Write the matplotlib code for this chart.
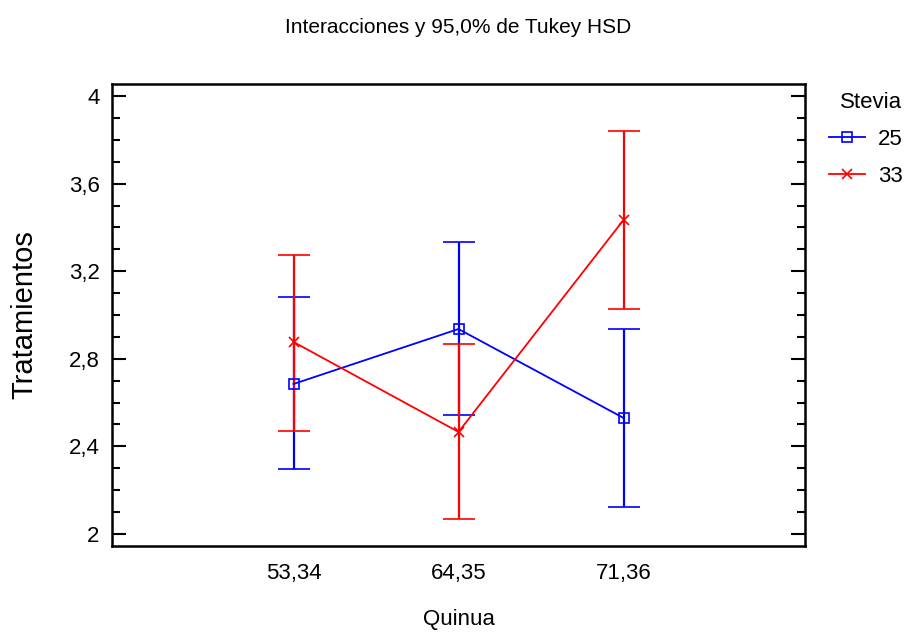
import matplotlib
matplotlib.use("Agg")
import matplotlib.pyplot as plt
from matplotlib.lines import Line2D
from matplotlib.ticker import MultipleLocator, FuncFormatter

plt.rcParams['font.family'] = ['Liberation Sans', 'DejaVu Sans']

quinua = ['53,34', '64,35', '71,36']
stevia = ['25', '33']

# medias y limites de Tukey HSD
mean_25 = [2.685, 2.936, 2.530]
low_25 = [2.297, 2.543, 2.123]
high_25 = [3.082, 3.333, 2.936]

mean_33 = [2.877, 2.466, 3.434]
low_33 = [2.470, 2.068, 3.027]
high_33 = [3.274, 2.868, 3.840]

fig = plt.figure(figsize=(9.15, 6.33), dpi=100)
ax = fig.add_axes([0.1224, 0.1374, 0.7574, 0.7299])

x = list(range(len(quinua)))
series = [
    (mean_25, low_25, high_25, '#0000ff', 's', stevia[0]),
    (mean_33, low_33, high_33, '#ff0000', 'x', stevia[1]),
]
handles = []
for m, lo, hi, col, mk, lab in series:
    err = [[a - b for a, b in zip(m, lo)], [b - a for a, b in zip(m, hi)]]
    ax.errorbar(x, m, yerr=err, color=col, ecolor=col, elinewidth=1.6,
                capsize=11.5, capthick=1.6, lw=1.3, marker=mk,
                markersize=6.5, markerfacecolor='none', markeredgecolor=col,
                markeredgewidth=1.2)
    handles.append(Line2D([], [], color=col, lw=1.3, marker=mk, markersize=6.5,
                          markerfacecolor='none', markeredgewidth=1.2, label=lab))

ax.set_xlim(-1.1, 3.1)
ax.set_ylim(1.945, 4.055)
ax.set_xticks(x)
ax.set_xticklabels(quinua)
ax.yaxis.set_major_locator(MultipleLocator(0.4))
ax.yaxis.set_minor_locator(MultipleLocator(0.1))
ax.yaxis.set_major_formatter(FuncFormatter(lambda v, p: ('%g' % round(v, 1)).replace('.', ',')))

ax.tick_params(axis='y', which='major', direction='in', length=10, width=1.5,
               left=True, right=True, labelsize=16, pad=9)
ax.tick_params(axis='y', which='minor', direction='in', length=5.5, width=1.5,
               left=True, right=True)
ax.tick_params(axis='x', length=0, labelsize=16, pad=12)
for s in ax.spines.values():
    s.set_linewidth(1.8)

ax.set_title('Interacciones y 95,0% de Tukey HSD', fontsize=15, pad=37)
ax.set_xlabel('Quinua', fontsize=16, labelpad=18)
ax.set_ylabel('Tratamientos', fontsize=21, labelpad=22)

leg = fig.legend(handles=handles, title='Stevia', loc='upper right',
                 bbox_to_anchor=(0.996, 0.868), frameon=False, fontsize=16,
                 title_fontsize=16, handlelength=1.65, handletextpad=0.55,
                 labelspacing=0.7, borderaxespad=0)
leg._legend_box.align = 'right'

fig.savefig('out.png', dpi=100)
